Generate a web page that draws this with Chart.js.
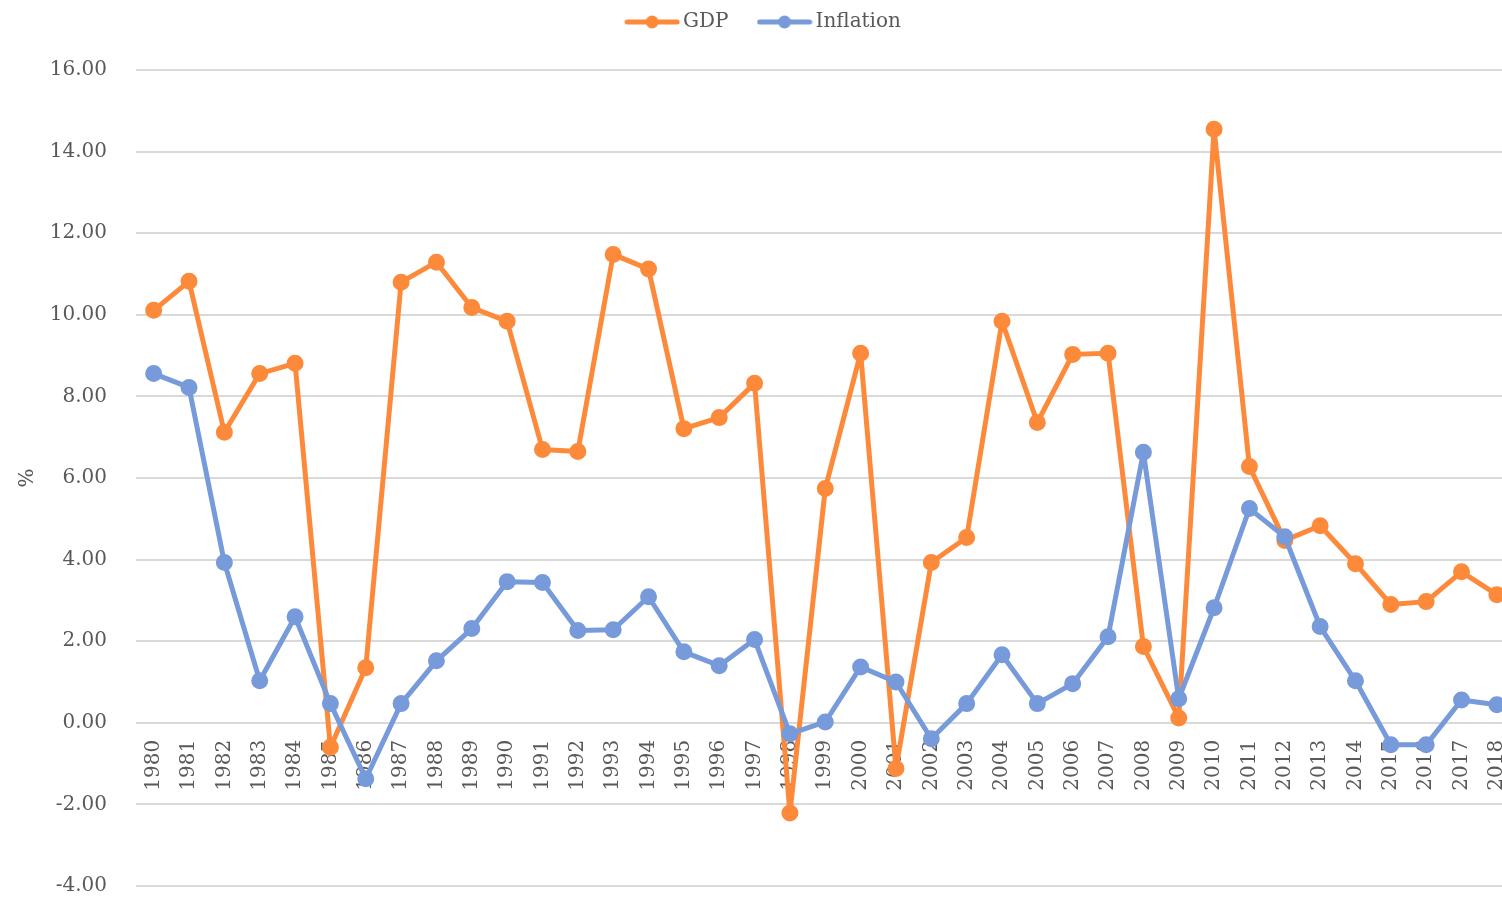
<!DOCTYPE html>
<html>
<head>
<meta charset="utf-8">
<script src="https://cdn.jsdelivr.net/npm/chart.js@4.4.1/dist/chart.umd.min.js"></script>
<style>
  html, body { margin: 0; padding: 0; background: #fff; overflow: hidden; }
  #wrap { width: 1538px; height: 950px; margin-top: -23px; }
</style>
</head>
<body>
<div id="wrap"><canvas id="chart"></canvas></div>
<script>
const years = ['1980','1981','1982','1983','1984','1985','1986','1987','1988','1989',
  '1990','1991','1992','1993','1994','1995','1996','1997','1998','1999',
  '2000','2001','2002','2003','2004','2005','2006','2007','2008','2009',
  '2010','2011','2012','2013','2014','2015','2016','2017','2018'];

const gdp = [10.11, 10.82, 7.12, 8.56, 8.81, -0.6, 1.35, 10.8, 11.29, 10.18,
  9.84, 6.7, 6.65, 11.48, 11.12, 7.21, 7.48, 8.32, -2.21, 5.74,
  9.06, -1.12, 3.93, 4.54, 9.84, 7.36, 9.03, 9.06, 1.87, 0.12,
  14.55, 6.28, 4.47, 4.83, 3.9, 2.9, 2.97, 3.7, 3.14];

const inflation = [8.56, 8.22, 3.93, 1.03, 2.6, 0.47, -1.37, 0.47, 1.52, 2.31,
  3.46, 3.44, 2.26, 2.28, 3.09, 1.74, 1.4, 2.04, -0.27, 0.02,
  1.37, 1.0, -0.39, 0.47, 1.67, 0.47, 0.96, 2.11, 6.63, 0.59,
  2.82, 5.25, 4.56, 2.36, 1.03, -0.54, -0.54, 0.56, 0.44];

const orange = '#FD8A3A';
const blue = '#769ADA';
const textColor = '#595959';
const fontFamily = '"DejaVu Serif", "Liberation Serif", serif';

// excel style legend marker: line with a dot in the middle
function legendMarker(color) {
  const c = document.createElement('canvas');
  c.width = 56;
  c.height = 16;
  const g = c.getContext('2d');
  g.strokeStyle = color;
  g.lineWidth = 5;
  g.lineCap = 'round';
  g.beginPath();
  g.moveTo(3, 8);
  g.lineTo(53, 8);
  g.stroke();
  g.fillStyle = color;
  g.beginPath();
  g.arc(28, 8, 6.5, 0, Math.PI * 2);
  g.fill();
  return c;
}
const markers = [legendMarker(orange), legendMarker(blue)];

// leave some room under the legend, like the excel plot area
const legendSpace = {
  id: 'legendSpace',
  beforeInit(chart) {
    const fit = chart.legend.fit;
    chart.legend.fit = function () {
      fit.bind(chart.legend)();
      this.height += 28;
    };
  }
};

const ctx = document.getElementById('chart').getContext('2d');
new Chart(ctx, {
  type: 'line',
  data: {
    labels: years,
    datasets: [
      {
        label: 'GDP',
        data: gdp,
        borderColor: orange,
        backgroundColor: orange,
        pointBackgroundColor: orange,
        pointBorderColor: orange,
        borderWidth: 5,
        borderJoinStyle: 'round',
        pointRadius: 6,
        tension: 0,
        order: 1
      },
      {
        label: 'Inflation',
        data: inflation,
        borderColor: blue,
        backgroundColor: blue,
        pointBackgroundColor: blue,
        pointBorderColor: blue,
        borderWidth: 5,
        borderJoinStyle: 'round',
        pointRadius: 6,
        tension: 0,
        order: 0
      }
    ]
  },
  plugins: [legendSpace],
  options: {
    responsive: true,
    maintainAspectRatio: false,
    animation: false,
    layout: { padding: { top: 0, right: 6, bottom: 0, left: 0 } },
    plugins: {
      tooltip: { enabled: false },
      legend: {
        position: 'top',
        labels: {
          usePointStyle: true,
          pointStyleWidth: 42,
          padding: 35,
          color: textColor,
          font: { family: fontFamily, size: 20 },
          sort: (a, b) => a.datasetIndex - b.datasetIndex,
          generateLabels: (chart) => {
            const items = Chart.defaults.plugins.legend.labels.generateLabels(chart);
            items.forEach(it => { it.pointStyle = markers[it.datasetIndex]; });
            return items;
          }
        }
      }
    },
    scales: {
      x: {
        position: { y: 0 },
        offset: true,
        z: 1,
        grid: { display: false, drawTicks: false },
        border: { display: false },
        ticks: {
          autoSkip: false,
          minRotation: 90,
          maxRotation: 90,
          padding: 17,
          color: textColor,
          font: { family: fontFamily, size: 20 }
        }
      },
      y: {
        min: -4,
        max: 16,
        afterFit: (scale) => { scale.width = 136; },
        grid: { color: '#D9D9D9', lineWidth: 2, drawTicks: false },
        border: { display: false },
        ticks: {
          stepSize: 2,
          padding: 29,
          color: textColor,
          font: { family: fontFamily, size: 20 },
          callback: (v) => v.toFixed(2)
        },
        title: {
          display: true,
          text: '%',
          color: textColor,
          font: { family: fontFamily, size: 20 },
          padding: { top: 16, bottom: 0 }
        }
      }
    }
  }
});
</script>
</body>
</html>
